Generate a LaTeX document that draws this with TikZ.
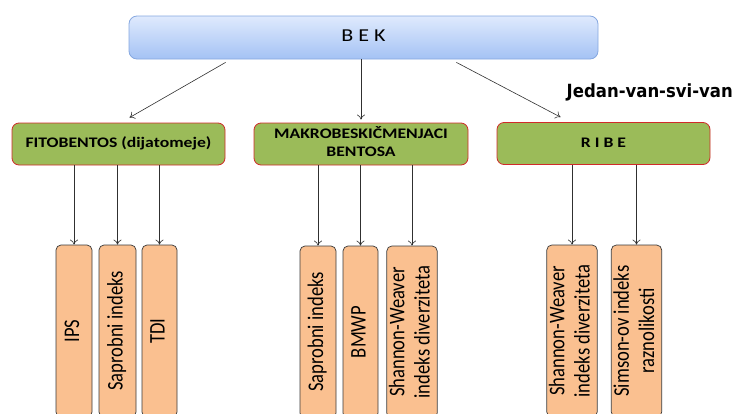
\documentclass[tikz,border=0pt]{standalone}
\usepackage{fontspec}
\usepackage{graphicx}
\setmainfont{Carlito}
\newfontfamily\dejavubold{DejaVu Sans Bold}
\usetikzlibrary{calc,arrows.meta}
\definecolor{bektop}{HTML}{DFEAFD}
\definecolor{bekbot}{HTML}{A4C2F4}
\definecolor{bekborder}{HTML}{86A8E0}
\definecolor{grpfill}{HTML}{9BBB59}
\definecolor{grpborder}{HTML}{D02A2A}
\definecolor{leaffill}{HTML}{FAC090}
\definecolor{leafborder}{HTML}{3A3A3A}
\definecolor{arrcol}{HTML}{303030}
\newcommand{\leaflabel}[1]{\scalebox{1.2}[1]{\rotatebox{90}{\begin{tabular}{@{}c@{}}#1\end{tabular}}}}
\newcommand{\grplabel}[1]{\scalebox{1.21}[1]{\begin{tabular}{@{}c@{}}#1\end{tabular}}}
\begin{document}
\begin{tikzpicture}[x=1pt,y=-1pt,
  bekbox/.style={draw=bekborder, line width=0.8pt, rounded corners=8pt, top color=bektop, bottom color=bekbot, minimum width=469pt, minimum height=43pt, inner sep=0pt, font=\fontsize{18.2}{20}\selectfont},
  grpbox/.style={draw=grpborder, line width=0.8pt, fill=grpfill, rounded corners=7pt, minimum width=213pt, minimum height=42pt, inner sep=0pt, align=center, font=\bfseries\fontsize{14.6}{17.6}\selectfont},
  leafbox/.style={draw=leafborder, line width=0.7pt, fill=leaffill, rounded corners=5pt, minimum height=172pt, inner sep=0pt, align=center, font=\fontsize{18.6}{21}\selectfont},
  arr/.style={-{To[length=5pt,width=8pt]}, draw=arrcol, line width=0.6pt}
]
\useasboundingbox (0,0) rectangle (734,413);

\node[bekbox] (bek) at (363.5,37.5) {\grplabel{B E K}};

\node[grpbox] (fito) at (118.5,144) {\grplabel{FITOBENTOS (dijatomeje)}};
\node[grpbox, minimum width=214pt] (makro) at (361,144) {\grplabel{MAKROBESKIČMENJACI\\BENTOSA}};
\node[grpbox] (ribe) at (603.5,143.5) {\grplabel{R I B E}};

\node[font=\dejavubold\fontsize{16.5}{18}\selectfont, anchor=base east, inner sep=0pt] (jvsv) at (733,97.7) {\scalebox{1}[1.1]{Jedan-van-svi-van}};

\node[leafbox, minimum width=36pt] (ips) at (74,331) {\leaflabel{IPS}};
\node[leafbox, minimum width=37pt] (sap1) at (117.5,331) {\leaflabel{Saprobni indeks}};
\node[leafbox, minimum width=35pt] (tdi) at (159.5,331) {\leaflabel{TDI}};

\node[leafbox, minimum width=36pt] (sap2) at (318,332) {\leaflabel{Saprobni indeks}};
\node[leafbox, minimum width=35pt] (bmwp) at (360.5,332) {\leaflabel{BMWP}};
\node[leafbox, minimum width=50pt] (sw1) at (412,332) {\leaflabel{Shannon-Weaver\\indeks diverziteta}};

\node[leafbox, minimum width=50pt] (sw2) at (572,331) {\leaflabel{Shannon-Weaver\\indeks diverziteta}};
\node[leafbox, minimum width=49pt] (sim) at (636.5,331) {\leaflabel{Simson-ov indeks\\raznolikosti}};

\draw[arr] ($(bek.south west)+(97,3)$) -- ($(fito.north)+(11,-5)$);
\draw[arr] (bek.south -| makro.north) -- ($(makro.north)+(0,-3)$);
\draw[arr] ($(bek.south east)+(-142,3)$) -- ($(ribe.north)+(-43,-5)$);

\foreach \leaf in {ips,sap1,tdi} \draw[arr] (\leaf.north |- fito.south) -- (\leaf.north);
\foreach \leaf in {sap2,bmwp,sw1} \draw[arr] (\leaf.north |- makro.south) -- (\leaf.north);
\foreach \leaf in {sw2,sim} \draw[arr] (\leaf.north |- ribe.south) -- (\leaf.north);
\end{tikzpicture}
\end{document}
